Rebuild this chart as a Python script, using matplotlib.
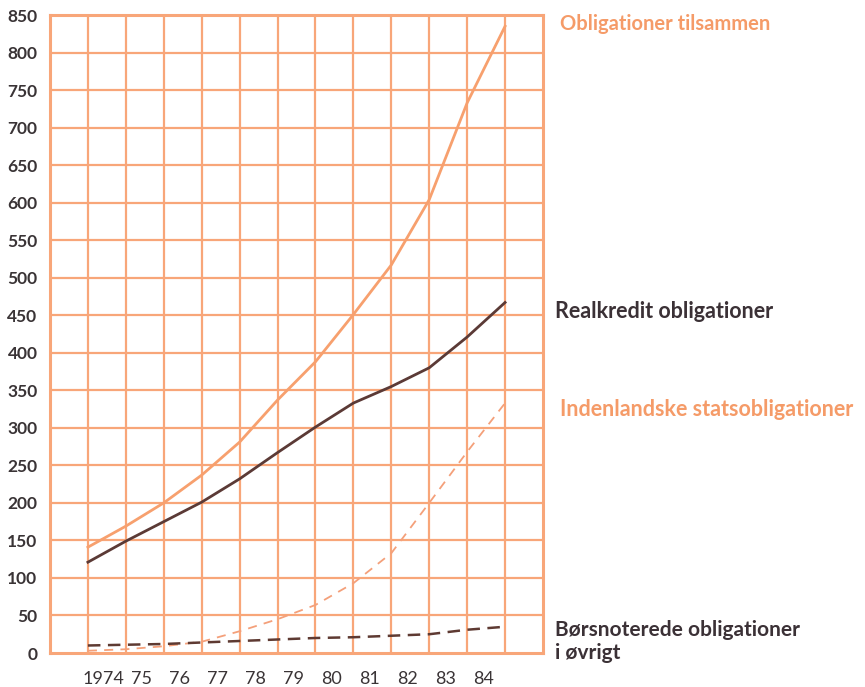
"""
Obligationsmassen 1974-84, opdelt på typer.
"""

import matplotlib

matplotlib.use("Agg")
import matplotlib.pyplot as plt

GRID_COLOR = "#f8a679"
ORANGE_TEXT = "#f59b68"
DARK_TEXT = "#3b3136"

# year-end points, first one is start of 1974
years = [1974, 1975, 1976, 1977, 1978, 1979, 1980, 1981, 1982, 1983, 1984, 1985]
tilsammen = [141, 169, 200, 237, 281, 337, 388, 451, 517, 604, 733, 835]
realkredit = [121, 149, 175, 201, 232, 267, 301, 333, 355, 380, 421, 467]
stat = [3, 5, 9, 15, 29, 45, 64, 93, 133, 200, 268, 333]
boers = [10, 11, 12, 14, 16, 18, 20, 21, 23, 25, 31, 35]

tick_labels = ["1974", "75", "76", "77", "78", "79", "80", "81", "82", "83", "84"]
tick_years = [1974, 1975, 1976, 1977, 1978, 1979, 1980, 1981, 1982, 1983, 1984]

W, H = 865, 687
fig = plt.figure(figsize=(W / 100, H / 100), dpi=100)
ax = fig.add_axes([50 / W, 1 - 653 / H, (543 - 50) / W, (653 - 15) / H])

ax.set_xlim(1973, 1986)
ax.set_ylim(0, 850)

# grid: one column per year, one row per 50
for x in range(1974, 1986):
    ax.axvline(x, color=GRID_COLOR, linewidth=1.6, zorder=1)
for y in range(50, 850, 50):
    ax.axhline(y, color=GRID_COLOR, linewidth=1.6, zorder=1)
for s in ax.spines.values():
    s.set_color(GRID_COLOR)
    s.set_linewidth(2.2)

ax.plot(years, tilsammen, color="#f7a06e", linewidth=2.0, zorder=3)
ax.plot(years, realkredit, color="#5b3a36", linewidth=2.0, zorder=3)
ax.plot(years, stat, color="#f4a07a", linewidth=1.3, linestyle=(0, (5, 4)), zorder=3)
ax.plot(years, boers, color="#5e3a32", linewidth=1.8, linestyle=(0, (5, 3)), zorder=3)

ax.set_yticks(range(0, 851, 50))
ax.set_yticklabels([str(v) for v in range(0, 851, 50)],
                   fontsize=12.5, fontweight="bold", color="#3a3436", family="Lato")
ax.set_xticks([t + 0.42 for t in tick_years])
ax.set_xticklabels(tick_labels, fontsize=13, color="#3a3436", family="Lato")
ax.tick_params(axis="both", length=0)
ax.tick_params(axis="y", pad=9)
ax.tick_params(axis="x", pad=13)

labels = [
    (560, 24, "Obligationer tilsammen", ORANGE_TEXT, 14.5),
    (555, 312, "Realkredit obligationer", DARK_TEXT, 15.5),
    (560, 409, "Indenlandske statsobligationer", ORANGE_TEXT, 15.5),
    (555, 630, "Børsnoterede obligationer", DARK_TEXT, 15),
    (555, 653, "i øvrigt", DARK_TEXT, 15),
]
for px, py, txt, col, size in labels:
    fig.text(px / W, 1 - py / H, txt, fontsize=size, fontweight="bold",
             color=col, family="Lato", va="center", ha="left")

fig.savefig("out.png", dpi=100)
plt.close(fig)
